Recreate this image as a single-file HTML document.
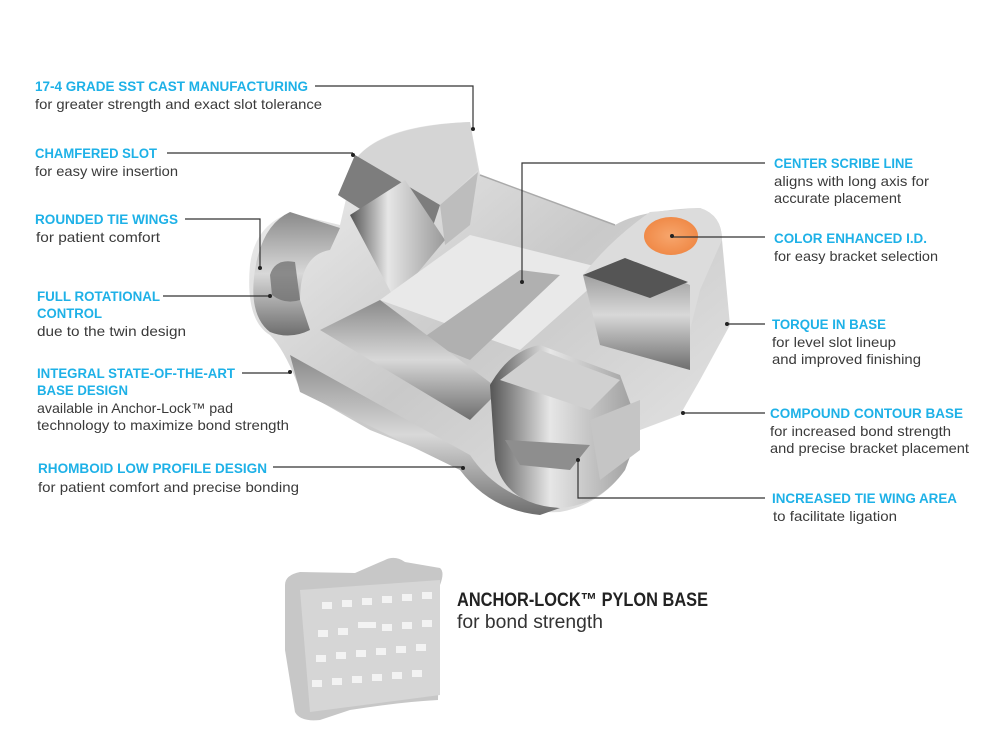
<!DOCTYPE html>
<html><head><meta charset="utf-8"><style>
html,body{margin:0;padding:0;background:#fff}
svg{display:block}
.h{font-family:"Liberation Sans",sans-serif;font-weight:bold;font-size:13.5px;fill:#1eb1e7}
.b{font-family:"Liberation Sans",sans-serif;font-size:14px;fill:#3a3a3a}
.l{stroke:#333;stroke-width:1.2;fill:none}
</style></head><body>
<svg width="1000" height="750" viewBox="0 0 1000 750" xmlns="http://www.w3.org/2000/svg">
<defs>
<linearGradient id="m1" x1="0" y1="0" x2="1" y2="1"><stop offset="0" stop-color="#f4f4f4"/><stop offset="0.5" stop-color="#c9c9c9"/><stop offset="1" stop-color="#e8e8e8"/></linearGradient>
<linearGradient id="m2" x1="0" y1="0" x2="0" y2="1"><stop offset="0" stop-color="#8a8a8a"/><stop offset="0.5" stop-color="#d8d8d8"/><stop offset="1" stop-color="#6e6e6e"/></linearGradient>
<linearGradient id="m3" x1="0" y1="0" x2="1" y2="0"><stop offset="0" stop-color="#555"/><stop offset="0.4" stop-color="#e6e6e6"/><stop offset="1" stop-color="#9a9a9a"/></linearGradient>
<radialGradient id="or"><stop offset="0" stop-color="#f7a66d"/><stop offset="1" stop-color="#f08a48"/></radialGradient>
</defs>

<!-- main bracket body -->
<path d="M250,265 Q255,225 290,213 L340,225 L355,160 Q380,125 470,122 L480,175 L615,225 Q640,210 700,208 Q722,215 722,240 L730,325 L700,380 L680,415 L640,430 L625,470 Q600,505 560,512 Q500,515 470,470 L370,430 L300,390 Q285,350 270,335 Q245,320 250,265 Z" fill="url(#m1)"/>
<!-- base rail -->
<path d="M290,355 L470,455 Q500,500 560,508 L540,515 Q490,510 460,470 L300,392 Z" fill="url(#m2)"/>
<!-- left wing -->
<path d="M255,270 Q262,225 290,212 L340,228 L330,250 Q300,255 300,300 L310,330 Q290,340 270,332 Q248,315 255,270 Z" fill="url(#m2)"/>
<path d="M270,275 Q275,258 295,262 L300,300 Q285,305 272,295 Z" fill="#6a6a6a" opacity="0.7"/>
<!-- top chamfered wing -->
<path d="M355,160 Q380,126 470,122 L478,170 L435,210 Z" fill="#d5d5d5"/>
<path d="M338,195 L355,155 L440,205 L425,250 Z" fill="#7d7d7d"/>
<path d="M350,215 L405,180 L445,240 L395,300 Z" fill="url(#m3)"/>
<path d="M440,205 L478,172 L470,225 L445,245 Z" fill="#bdbdbd"/>
<!-- middle slot -->
<path d="M380,300 L470,235 L610,270 L520,350 Z" fill="#e9e9e9"/>
<path d="M420,340 L520,270 L560,275 L470,360 Z" fill="#b0b0b0"/>
<path d="M320,330 L380,300 L500,390 L470,420 Z" fill="url(#m2)"/>
<!-- right top wing -->
<path d="M583,275 Q610,240 650,212 L700,208 Q722,215 722,240 L700,290 L690,330 L620,320 Z" fill="#dcdcdc"/>
<path d="M583,275 L630,260 L690,285 L690,370 L600,345 Z" fill="url(#m2)"/>
<path d="M583,275 L625,258 L688,282 L650,298 Z" fill="#555"/>
<ellipse cx="671" cy="236" rx="27" ry="19" fill="url(#or)"/>
<!-- right bottom wing -->
<path d="M490,385 Q510,350 540,345 L620,375 L640,430 L625,470 Q600,505 560,508 Q505,505 495,460 Z" fill="url(#m3)"/>
<path d="M500,380 L540,350 L620,380 L590,410 Z" fill="#d0d0d0"/>
<path d="M505,440 L590,445 L570,470 L520,465 Z" fill="#8e8e8e"/>
<path d="M590,420 L640,400 L640,450 L600,480 Z" fill="#c5c5c5"/>
<!-- wire hint -->
<path d="M480,175 L615,225" stroke="#aaa" stroke-width="1.5"/>

<!-- pad -->
<path d="M285,585 Q285,575 300,572 L355,573 L385,560 Q395,555 405,562 L440,568 Q445,572 440,585 L438,700 Q400,702 350,710 L320,720 Q300,722 295,712 L285,650 Z" fill="#c7c7c7"/>
<path d="M300,590 L440,580 L440,695 L310,712 Z" fill="#d6d6d6"/>
<g fill="#f3f3f3">
<rect x="322" y="602" width="10" height="7"/><rect x="342" y="600" width="10" height="7"/><rect x="362" y="598" width="10" height="7"/><rect x="382" y="596" width="10" height="7"/><rect x="402" y="594" width="10" height="7"/><rect x="422" y="592" width="10" height="7"/>
<rect x="318" y="630" width="10" height="7"/><rect x="338" y="628" width="10" height="7"/><rect x="358" y="622" width="18" height="6"/><rect x="382" y="624" width="10" height="7"/><rect x="402" y="622" width="10" height="7"/><rect x="422" y="620" width="10" height="7"/>
<rect x="316" y="655" width="10" height="7"/><rect x="336" y="652" width="10" height="7"/><rect x="356" y="650" width="10" height="7"/><rect x="376" y="648" width="10" height="7"/><rect x="396" y="646" width="10" height="7"/><rect x="416" y="644" width="10" height="7"/>
<rect x="312" y="680" width="10" height="7"/><rect x="332" y="678" width="10" height="7"/><rect x="352" y="676" width="10" height="7"/><rect x="372" y="674" width="10" height="7"/><rect x="392" y="672" width="10" height="7"/><rect x="412" y="670" width="10" height="7"/>
</g>

<!-- leader lines -->
<g class="l">
<path d="M315,86 H473 V128"/><path d="M167,153 H353"/><path d="M185,219 H260 V267"/>
<path d="M163,296 H270"/><path d="M242,373 H290"/><path d="M273,467 H463"/>
<path d="M765,163 H522 V282"/><path d="M765,237 H672"/><path d="M765,324 H727"/>
<path d="M765,413 H683"/><path d="M765,498 H578 V460"/>
</g>
<g fill="#222">
<circle cx="473" cy="129" r="2"/><circle cx="353" cy="155" r="2"/><circle cx="260" cy="268" r="2"/><circle cx="270" cy="296" r="2"/><circle cx="290" cy="372" r="2"/><circle cx="463" cy="468" r="2"/>
<circle cx="522" cy="282" r="2"/><circle cx="672" cy="236" r="2"/><circle cx="727" cy="324" r="2"/><circle cx="683" cy="413" r="2"/><circle cx="578" cy="460" r="2"/>
</g>

<!-- left labels -->
<text class="h" x="35" y="91" textLength="273" lengthAdjust="spacingAndGlyphs">17-4 GRADE SST CAST MANUFACTURING</text>
<text class="b" x="35" y="109" textLength="287" lengthAdjust="spacingAndGlyphs">for greater strength and exact slot tolerance</text>
<text class="h" x="35" y="158" textLength="122" lengthAdjust="spacingAndGlyphs">CHAMFERED SLOT</text>
<text class="b" x="35" y="176" textLength="143" lengthAdjust="spacingAndGlyphs">for easy wire insertion</text>
<text class="h" x="35" y="224" textLength="143" lengthAdjust="spacingAndGlyphs">ROUNDED TIE WINGS</text>
<text class="b" x="36" y="242" textLength="124" lengthAdjust="spacingAndGlyphs">for patient comfort</text>
<text class="h" x="37" y="301" textLength="123" lengthAdjust="spacingAndGlyphs">FULL ROTATIONAL</text>
<text class="h" x="37" y="318" textLength="65" lengthAdjust="spacingAndGlyphs">CONTROL</text>
<text class="b" x="37" y="336" textLength="149" lengthAdjust="spacingAndGlyphs">due to the twin design</text>
<text class="h" x="37" y="378" textLength="198" lengthAdjust="spacingAndGlyphs">INTEGRAL STATE-OF-THE-ART</text>
<text class="h" x="37" y="395" textLength="91" lengthAdjust="spacingAndGlyphs">BASE DESIGN</text>
<text class="b" x="37" y="413" textLength="196" lengthAdjust="spacingAndGlyphs">available in Anchor-Lock™ pad</text>
<text class="b" x="37" y="430" textLength="252" lengthAdjust="spacingAndGlyphs">technology to maximize bond strength</text>
<text class="h" x="38" y="473" textLength="229" lengthAdjust="spacingAndGlyphs">RHOMBOID LOW PROFILE DESIGN</text>
<text class="b" x="38" y="492" textLength="261" lengthAdjust="spacingAndGlyphs">for patient comfort and precise bonding</text>

<!-- right labels -->
<text class="h" x="774" y="168" textLength="139" lengthAdjust="spacingAndGlyphs">CENTER SCRIBE LINE</text>
<text class="b" x="774" y="186" textLength="155" lengthAdjust="spacingAndGlyphs">aligns with long axis for</text>
<text class="b" x="774" y="203" textLength="127" lengthAdjust="spacingAndGlyphs">accurate placement</text>
<text class="h" x="774" y="243" textLength="153" lengthAdjust="spacingAndGlyphs">COLOR ENHANCED I.D.</text>
<text class="b" x="774" y="261" textLength="164" lengthAdjust="spacingAndGlyphs">for easy bracket selection</text>
<text class="h" x="772" y="329" textLength="114" lengthAdjust="spacingAndGlyphs">TORQUE IN BASE</text>
<text class="b" x="772" y="347" textLength="124" lengthAdjust="spacingAndGlyphs">for level slot lineup</text>
<text class="b" x="772" y="364" textLength="149" lengthAdjust="spacingAndGlyphs">and improved finishing</text>
<text class="h" x="770" y="418" textLength="193" lengthAdjust="spacingAndGlyphs">COMPOUND CONTOUR BASE</text>
<text class="b" x="770" y="436" textLength="181" lengthAdjust="spacingAndGlyphs">for increased bond strength</text>
<text class="b" x="770" y="453" textLength="199" lengthAdjust="spacingAndGlyphs">and precise bracket placement</text>
<text class="h" x="772" y="503" textLength="185" lengthAdjust="spacingAndGlyphs">INCREASED TIE WING AREA</text>
<text class="b" x="773" y="521" textLength="124" lengthAdjust="spacingAndGlyphs">to facilitate ligation</text>

<text x="457" y="606" font-family="Liberation Sans, sans-serif" font-weight="bold" font-size="19" fill="#222" textLength="251" lengthAdjust="spacingAndGlyphs">ANCHOR-LOCK™ PYLON BASE</text>
<text x="457" y="628" font-family="Liberation Sans, sans-serif" font-size="19" fill="#333" textLength="146" lengthAdjust="spacingAndGlyphs">for bond strength</text>
</svg>
</body></html>
